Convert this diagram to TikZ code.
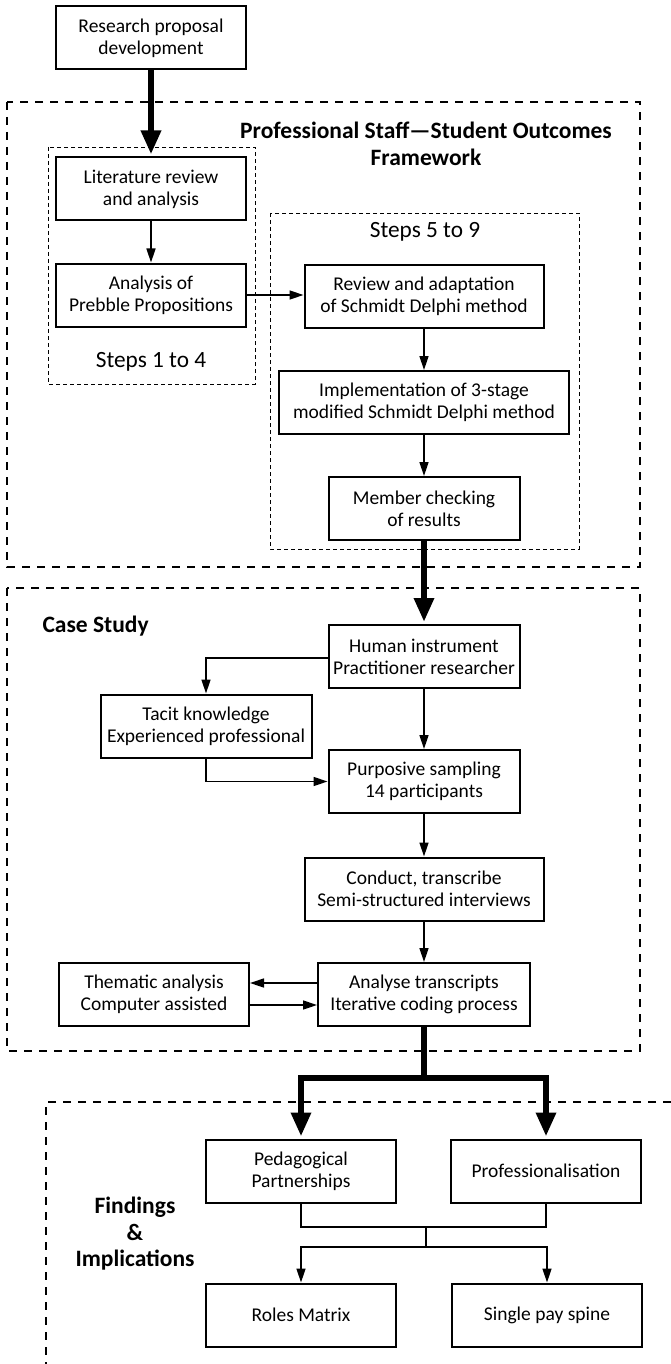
\documentclass[tikz,border=0pt]{standalone}
\usepackage{fontspec}
\setmainfont{Carlito}
\usetikzlibrary{arrows.meta}
\begin{document}
\begin{tikzpicture}[x=1pt,y=-1pt,
  box/.style={draw, line width=2pt, inner sep=0pt, minimum height=63pt, align=center,
              font=\fontsize{19.5}{22}\selectfont},
  arr/.style={line width=1.5pt, -{Triangle[length=14pt,width=9pt]}},
  bigarr/.style={line width=6.5pt, -{Triangle[length=24pt,width=19pt]}, line join=miter},
  bigline/.style={line width=6.5pt, line join=miter},
  frame/.style={dash pattern=on 8pt off 7pt, line width=2pt},
  subframe/.style={dash pattern=on 4pt off 3pt, line width=0.8pt},
  heading/.style={font=\bfseries\fontsize{23.5}{26.5}\selectfont, align=center},
  stepsnote/.style={font=\fontsize{23.3}{26}\selectfont}
]
\useasboundingbox (0,0) rectangle (671,1364);

% dashed group frames
\draw[frame] (7,102) rectangle (640,567);
\draw[frame] (7,588) rectangle (640,1051);
\draw[frame] (671,1102) -- (46,1102) -- (46,1364);
\draw[subframe] (48,147) rectangle (255,384);
\draw[subframe] (270,213) rectangle (579,549);

% headings
\node[heading] (hpsf) at (426,144) {Professional Staff—Student Outcomes\\Framework};
\node[heading, anchor=west] (hcase) at (39,626) {Case Study};
\node[heading] (hfind) at (135,1234) {Findings\\\&\\Implications};
\node[stepsnote] (s59) at (425,232) {Steps 5 to 9};
\node[stepsnote] (s14) at (151,362) {Steps 1 to 4};

% boxes
\node[box, minimum width=190pt] (res) at (151,38) {Research proposal\\development};
\node[box, minimum width=190pt] (lit) at (151,189) {Literature review\\and analysis};
\node[box, minimum width=190pt] (ana) at (151,295) {Analysis of\\Prebble Propositions};
\node[box, minimum width=239pt] (rev) at (424,296.5) {Review and adaptation\\of Schmidt Delphi method};
\node[box, minimum width=290pt] (imp) at (424,402.5) {Implementation of 3-stage\\modified Schmidt Delphi method};
\node[box, minimum width=191pt] (mem) at (424,508.5) {Member checking\\of results};

\node[box, minimum width=191pt] (hum) at (424,656.5) {Human instrument\\Practitioner researcher};
\node[box, minimum width=211pt] (tac) at (206,726) {Tacit knowledge\\Experienced professional};
\node[box, minimum width=191pt] (pur) at (424,781.5) {Purposive sampling\\14 participants};
\node[box, minimum width=239pt] (con) at (424,889) {Conduct, transcribe\\Semi-structured interviews};
\node[box, minimum width=212pt] (anl) at (424,994.5) {Analyse transcripts\\Iterative coding process};
\node[box, minimum width=190pt] (the) at (154,994.5) {Thematic analysis\\Computer assisted};

\node[box, minimum width=190pt] (ped) at (301,1171) {Pedagogical\\Partnerships};
\node[box, minimum width=190pt] (pro) at (546,1171) {Professionalisation};
\node[box, minimum width=190pt] (rol) at (301,1315) {Roles Matrix};
\node[box, minimum width=190pt] (sin) at (547,1315) {Single pay spine};

% connectors: framework
\draw[bigarr, shorten >=2pt] (res.south) -- (lit.north);
\draw[arr] (lit.south) -- (ana.north);
\draw[arr] (ana.east) -- (ana.east -| rev.west);
\draw[arr] (rev.south) -- (imp.north);
\draw[arr] (imp.south) -- (mem.north);
\draw[bigarr, shorten >=2pt] (mem.south) -- (hum.north);

% connectors: case study
\draw[arr] ([yshift=-1.5pt]hum.west) -| (tac.north);
\draw[arr] (tac.south) |- (pur.west);
\draw[arr] (hum.south) -- (pur.north);
\draw[arr] (pur.south) -- (con.north);
\draw[arr] (con.south) -- (anl.north);
\draw[arr] ([yshift=11.5pt]anl.west) -- ([yshift=11.5pt]the.east);
\draw[arr] ([yshift=-10.5pt]the.east) -- ([yshift=-10.5pt]anl.west);

% connectors: findings
\coordinate (split) at (424,1078);
\draw[bigline] (anl.south) -- (split);
\draw[bigarr, shorten >=2pt] ([xshift=3.25pt]split) -| (ped.north);
\draw[bigarr, shorten >=2pt] ([xshift=-3.25pt]split) -| (pro.north);
\coordinate (j1) at (426,1227);
\coordinate (j2) at (426,1247);
\draw[line width=1.5pt] (ped.south) |- (j1) -| (pro.south);
\draw[line width=1.5pt] (j1) -- (j2);
\draw[arr] (j2) -| (rol.north);
\draw[arr] (j2) -| (sin.north);
\end{tikzpicture}
\end{document}
